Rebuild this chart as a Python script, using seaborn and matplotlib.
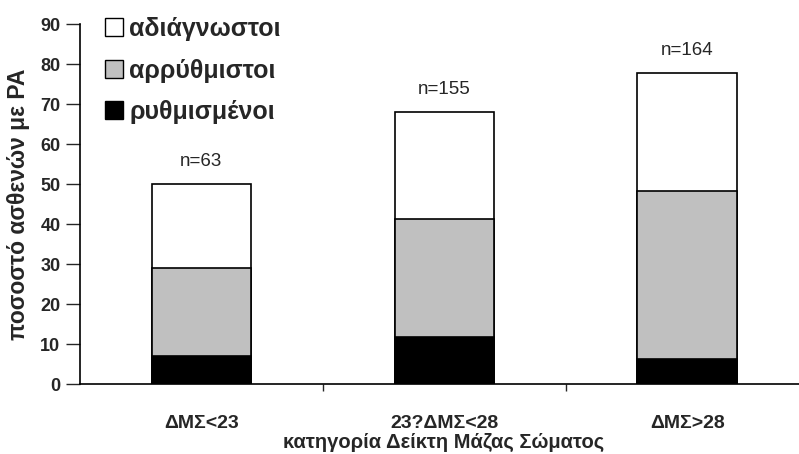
import matplotlib
matplotlib.use('Agg')
import matplotlib.pyplot as plt
from matplotlib.patches import Patch
import numpy as np
import pandas as pd
import seaborn as sns

# data
categories = ['ΔΜΣ<23', '23?ΔΜΣ<28', 'ΔΜΣ>28']
rythmismenoi = [7.0, 11.8, 6.2]
arrythmistoi = [22.0, 29.4, 42.1]
adiagnostoi = [21.0, 26.9, 29.4]
n_labels = ['n=63', 'n=155', 'n=164']
series_names = ['αδιάγνωστοι', 'αρρύθμιστοι', 'ρυθμισμένοι']
series_colors = ['white', '#c0c0c0', 'black']

sns.set_style('white')
plt.rcParams['font.family'] = ['Liberation Sans', 'DejaVu Sans']

df = pd.DataFrame({
    'cat': categories,
    'black': rythmismenoi,
    'gray': np.array(rythmismenoi) + np.array(arrythmistoi),
    'total': np.array(rythmismenoi) + np.array(arrythmistoi) + np.array(adiagnostoi),
})

fig = plt.figure(figsize=(7.99, 4.54), dpi=100)
ax = fig.add_axes([0.1, 0.154, 0.9, 0.793])

bar_w = 0.41
for col, color in [('total', 'white'), ('gray', '#c0c0c0'), ('black', 'black')]:
    sns.barplot(data=df, x='cat', y=col, color=color, width=bar_w,
                edgecolor='black', linewidth=1.2, saturation=1, ax=ax)

for i, lab in enumerate(n_labels):
    ax.text(i, df['total'][i] + 5.6, lab, ha='center', va='center', fontsize=13.5)

ax.set_ylim(0, 90)
ax.set_xlim(-0.5, 2.46)
ax.set_yticks(range(0, 91, 10))
ax.set_xticks(range(len(categories)))
ax.set_xticklabels(categories, fontweight='bold', fontsize=14)
ax.set_xticks([0.5, 1.5], minor=True)
ax.tick_params(axis='x', which='major', length=0, pad=22)
ax.tick_params(axis='x', which='minor', length=5, width=1, direction='out', bottom=True)
ax.tick_params(axis='y', length=10, width=1, direction='out', left=True,
               labelsize=13, pad=4)
for t in ax.get_yticklabels():
    t.set_fontweight('bold')

ax.set_ylabel('ποσοστό ασθενών με PA', fontweight='bold', fontsize=16.5)
ax.yaxis.set_label_coords(-0.07, 0.5)
ax.set_xlabel('κατηγορία Δείκτη Μάζας Σώματος', fontweight='bold', fontsize=14.5)
ax.xaxis.set_label_coords(0.506, -0.136)

sns.despine(ax=ax, top=True, right=True)
for side in ['left', 'bottom']:
    ax.spines[side].set_linewidth(1.2)
    ax.spines[side].set_color('black')

handles = [Patch(facecolor=c, edgecolor='black', linewidth=1) for c in series_colors]
leg = fig.legend(handles, series_names, loc='upper left', bbox_to_anchor=(0.103, 1.012),
                 frameon=False, prop={'weight': 'bold', 'size': 18},
                 handlelength=0.72, handleheight=0.72, handletextpad=0.25,
                 labelspacing=0.7, borderpad=0.4)

fig.savefig('out.png', dpi=100)
